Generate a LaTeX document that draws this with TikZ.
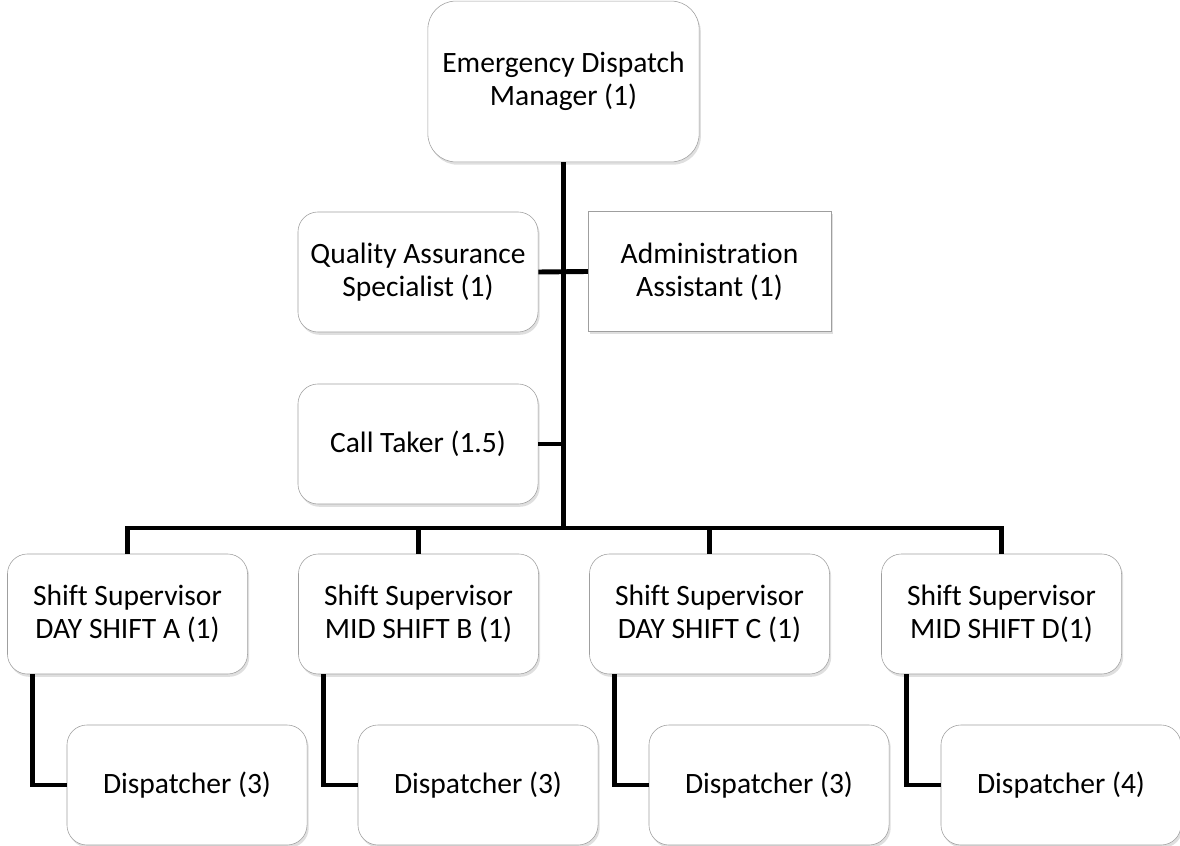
\documentclass[tikz,border=0pt]{standalone}
\usepackage{fontspec}
\setmainfont{Carlito}[Ligatures={NoCommon,NoRequired,NoContextual}]
\usetikzlibrary{calc,shadows}

\begin{document}
\begin{tikzpicture}[x=0.025cm,y=-0.025cm,
  box/.style={draw=gray!75,fill=white,rounded corners=0.5cm,align=center,
    inner sep=0pt,minimum width=6cm,minimum height=3cm,
    font=\fontsize{21}{23.5}\selectfont,
    drop shadow={opacity=0.25,shadow xshift=1.2pt,shadow yshift=-2pt}},
  link/.style={line width=3.5pt,black}]
\useasboundingbox (0,0) rectangle (1180,846);
% top of the chart
\node[box,rounded corners=0.7cm,minimum width=6.78cm,minimum height=4.02cm] (mgr) at (563.5,81.5) {\rule{0pt}{12pt}Emergency Dispatch\\Manager (1)};
\node[box] (qa) at (418,272) {Quality Assurance\\Specialist (1)};
\node[box,sharp corners,minimum width=6.07cm] (admin) at (709.5,271.5) {Administration\\Assistant (1)};
\node[box] (ct) at (418,444) {Call Taker (1.5)};
\coordinate (bus) at (563.5,528);
% shifts
\foreach \s/\x/\lbl/\n in {A/127.5/DAY SHIFT A (1)/3, B/418.5/MID SHIFT B (1)/3, C/709.5/DAY SHIFT C (1)/3, D/1001.5/MID SHIFT D(1)/4} {
  \node[box] (s\s) at (\x,614) {Shift Supervisor\\\lbl};
  \node[box] (d\s) at ($(\x,785)+(59.5,0)$) {Dispatcher (\n)};
}
\draw[link] (mgr.south) -- (bus);
\draw[link] (qa.east) -- (admin.west);
\draw[link] (ct.east) -- (ct.east -| bus);
\draw[link] (sA.north) |- (bus) -| (sD.north);
\foreach \s in {B,C} { \draw[link] (s\s.north) -- (s\s.north |- bus); }
\foreach \s in {A,B,C,D} { \draw[link] ($(s\s.south west)+(25,0)$) |- (d\s.west); }
\end{tikzpicture}
\end{document}
